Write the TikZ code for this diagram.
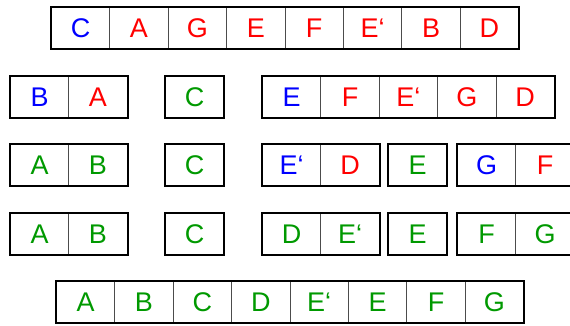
\documentclass[tikz,border=0pt]{standalone}
\usepackage{fontspec}
\setmainfont{Liberation Sans}
\usetikzlibrary{positioning}
\definecolor{keyblue}{RGB}{0,0,255}
\definecolor{keyred}{RGB}{255,0,0}
\definecolor{keygreen}{RGB}{0,153,0}
\tikzset{
  cell/.style={draw=gray!60!black, line width=0.8pt, minimum width=58.4pt,
    minimum height=41.5pt, inner sep=0pt, anchor=north west,
    font=\fontsize{27}{27}\selectfont},
  frame/.style={line width=2pt, line join=miter},
}
% #1 name, #2 left, #3 top, #4 number of cells, #5 colour/letter list
\newcommand{\cellrow}[5]{%
  \foreach \col/\txt [count=\i] in {#5}
    \node[cell, text=\col] (#1-\i) at ({#2+58.4*(\i-1)},#3) {\txt};
  \draw[frame] (#1-1.north west) rectangle (#1-#4.south east);
}

\begin{document}
\begin{tikzpicture}[x=1pt, y=-1pt]
  \useasboundingbox (0,0) rectangle (570,325);
  % unsorted
  \cellrow{top}{51}{7}{8}{keyblue/C, keyred/A, keyred/G, keyred/E, keyred/F, keyred/E‘, keyred/B, keyred/D}
  % first split
  \cellrow{ba}{10}{76}{2}{keyblue/B, keyred/A}
  \cellrow{c}{165}{76}{1}{keygreen/C}
  \cellrow{efg}{262}{76}{5}{keyblue/E, keyred/F, keyred/E‘, keyred/G, keyred/D}
  % second split
  \cellrow{ab}{10}{144}{2}{keygreen/A, keygreen/B}
  \cellrow{cc}{165}{144}{1}{keygreen/C}
  \cellrow{ed}{262}{144}{2}{keyblue/E‘, keyred/D}
  \cellrow{e}{388}{144}{1}{keygreen/E}
  \cellrow{gf}{457}{144}{2}{keyblue/G, keyred/F}
  % sorted parts
  \cellrow{abs}{10}{213}{2}{keygreen/A, keygreen/B}
  \cellrow{cs}{165}{213}{1}{keygreen/C}
  \cellrow{des}{262}{213}{2}{keygreen/D, keygreen/E‘}
  \cellrow{es}{388}{213}{1}{keygreen/E}
  \cellrow{fgs}{457}{213}{2}{keygreen/F, keygreen/G}
  % result
  \cellrow{res}{56}{281}{8}{keygreen/A, keygreen/B, keygreen/C, keygreen/D, keygreen/E‘, keygreen/E, keygreen/F, keygreen/G}
\end{tikzpicture}
\end{document}
